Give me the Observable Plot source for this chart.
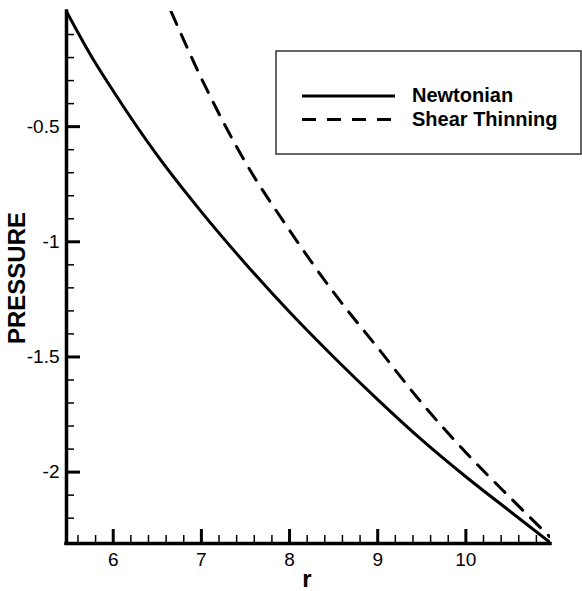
<!DOCTYPE html>
<html><head><meta charset="utf-8">
<script src="https://cdn.jsdelivr.net/npm/d3@7"></script>
<script src="https://cdn.jsdelivr.net/npm/@observablehq/plot@0.6"></script>
<style>
html,body{margin:0;padding:0;background:#fff;}
</style></head><body><div id="chart"></div>
<script>
// ---- data ----
const seriesNames = ["Newtonian", "Shear Thinning"];
const newtonR = [5.47, 5.75, 6.0, 6.5, 7.0, 7.5, 8.0, 8.5, 9.0, 9.5, 10.0, 10.5, 10.96];
const newtonP = [0, -0.193, -0.345, -0.625, -0.870, -1.095, -1.305, -1.500, -1.685, -1.860, -2.020, -2.170, -2.307];
const shearR = [6.656, 7.0, 7.5, 8.0, 8.5, 9.0, 9.5, 10.0, 10.5, 10.95];
const shearP = [0, -0.29, -0.655, -0.95, -1.22, -1.46, -1.70, -1.915, -2.11, -2.28];
const xDomain = [5.47, 10.96];
const yDomain = [-2.31, 0];
const xMajorTicks = [6, 7, 8, 9, 10];
const xMinorTicks = [5.6, 5.8, 6.2, 6.4, 6.6, 6.8, 7.2, 7.4, 7.6, 7.8, 8.2, 8.4, 8.6, 8.8, 9.2, 9.4, 9.6, 9.8, 10.2, 10.4, 10.6, 10.8];
const yMajorTicks = [-0.5, -1, -1.5, -2];
const yMinorTicks = [-0.1, -0.2, -0.3, -0.4, -0.6, -0.7, -0.8, -0.9, -1.1, -1.2, -1.3, -1.4, -1.6, -1.7, -1.8, -1.9, -2.1, -2.2];
const xTitle = "r";
const yTitle = "PRESSURE";

const newton = newtonR.map((r, i) => ({r, p: newtonP[i]}));
const shear = shearR.map((r, i) => ({r, p: shearP[i]}));

const FONT = "'Liberation Sans', Arial, Helvetica, sans-serif";
const W = 582, H = 591;
const mL = 66, mR = 32, mT = 11, mB = 48;
const TICK_FONT = 19;

const plot = Plot.plot({
  width: W, height: H,
  marginLeft: mL, marginRight: mR, marginTop: mT, marginBottom: mB,
  style: {fontFamily: FONT, fontSize: TICK_FONT + "px", background: "#fff", color: "#000", overflow: "visible"},
  x: {domain: xDomain},
  y: {domain: yDomain},
  marks: [
    Plot.line(newton, {x: "r", y: "p", stroke: "#000", strokeWidth: 3, curve: "monotone-x", clip: true}),
    Plot.line(shear, {x: "r", y: "p", stroke: "#000", strokeWidth: 3, strokeDasharray: "14,11", curve: "monotone-x", clip: true}),
    // inward ticks
    Plot.axisX({ticks: xMajorTicks, tickSize: 14, dy: -14, strokeWidth: 3, tickFormat: () => "", label: null}),
    Plot.axisX({ticks: xMinorTicks, tickSize: 8, dy: -8, strokeWidth: 1.5, tickFormat: () => "", label: null}),
    Plot.axisY({ticks: yMajorTicks, tickSize: 14, dx: 14, strokeWidth: 3, tickFormat: () => "", label: null}),
    Plot.axisY({ticks: yMinorTicks, tickSize: 8, dx: 8, strokeWidth: 1.5, tickFormat: () => "", label: null}),
    // tick labels
    Plot.axisX({ticks: xMajorTicks, tickSize: 0, tickPadding: 9, fontSize: TICK_FONT, tickFormat: d => String(d), label: null}),
    Plot.axisY({ticks: yMajorTicks, tickSize: 0, tickPadding: 7, fontSize: TICK_FONT, tickFormat: d => String(d), label: null}),
    // axis lines
    Plot.ruleX([xDomain[0]], {stroke: "#000", strokeWidth: 3.5, strokeLinecap: "square"}),
    Plot.ruleY([yDomain[0]], {stroke: "#000", strokeWidth: 3.5, strokeLinecap: "square"})
  ]
});

document.getElementById("chart").appendChild(plot);

const svg = d3.select(plot);
// enforce tick label size on every Plot-generated text
svg.selectAll("text").each(function() {
  this.setAttribute("font-size", TICK_FONT);
  this.style.setProperty("font-size", TICK_FONT + "px", "important");
});
svg.selectAll("g").each(function() {
  if (this.getAttribute("font-size")) this.setAttribute("font-size", TICK_FONT);
});

// axis titles
svg.append("text")
  .attr("x", 307).attr("y", 587)
  .attr("text-anchor", "middle")
  .attr("font-family", FONT).attr("font-weight", "bold").style("font-size", "24px")
  .attr("fill", "#000")
  .text(xTitle);
svg.append("text")
  .attr("transform", "translate(25,278) rotate(-90)")
  .attr("text-anchor", "middle")
  .attr("font-family", FONT).attr("font-weight", "bold").style("font-size", "24px")
  .attr("fill", "#000")
  .text(yTitle);

// legend
const lg = svg.append("g").attr("text-anchor", "start");
lg.append("rect").attr("x", 276).attr("y", 51).attr("width", 305).attr("height", 103)
  .attr("fill", "#fff").attr("stroke", "#333").attr("stroke-width", 1.5);
const dashes = [null, "14,11"];
seriesNames.forEach((name, i) => {
  const yy = 96 + i * 23.5;
  lg.append("line").attr("x1", 302).attr("x2", 395).attr("y1", yy).attr("y2", yy)
    .attr("stroke", "#000").attr("stroke-width", 3)
    .attr("stroke-dasharray", dashes[i]);
  lg.append("text").attr("x", 412).attr("y", yy + 6)
    .attr("text-anchor", "start")
    .attr("font-family", FONT).attr("font-weight", "bold").style("font-size", "20px")
    .attr("fill", "#000").text(name);
});
</script>
</body></html>
